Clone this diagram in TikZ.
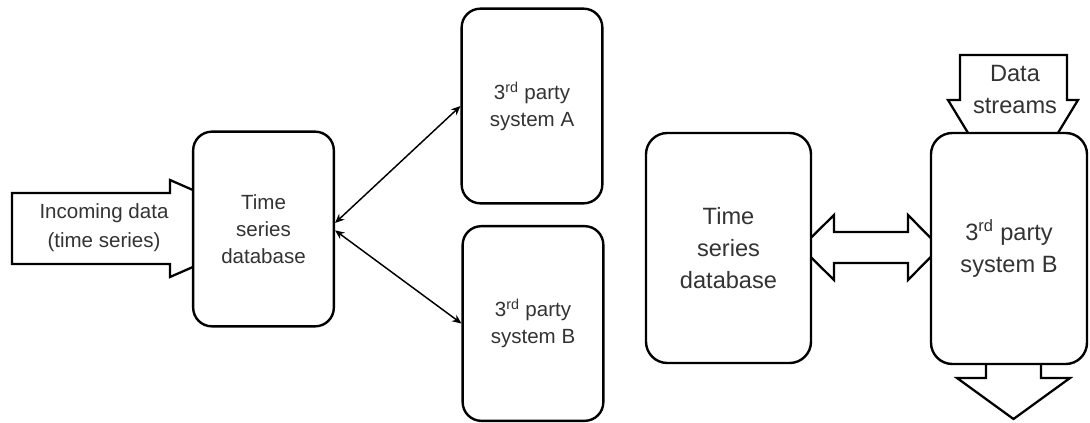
\documentclass[tikz,border=0pt]{standalone}
\usepackage{fontspec}
\setmainfont{Liberation Sans}
\usetikzlibrary{arrows.meta}

\tikzset{
  box/.style={draw, line width=1.8pt, rounded corners=14pt, fill=white, align=center, inner sep=0pt, text=black!80},
  smallbox/.style={box, minimum width=105.5pt, minimum height=146pt, font=\fontsize{15.4}{20.3}\selectfont},
  bigbox/.style={box, rounded corners=16pt, font=\fontsize{17.7}{24}\selectfont},
  blockarrow/.style={draw, line width=1.7pt, fill=white, line join=miter},
  arrowtext/.style={align=center, inner sep=0pt, text=black!80},
  link/.style={line width=1.1pt, {Stealth[length=7pt,width=6pt]}-{Stealth[length=7pt,width=6pt]}},
}

\begin{document}
\begin{tikzpicture}[x=0.75pt, y=-0.75pt]
		\useasboundingbox (0,0) rectangle (1090,422);
		
		%%%%% BLOCK ARROWS (tips hidden under the boxes) %%%%%
		\draw[blockarrow] (12,193) -- (170,193) -- (170,180) -- (281,228.5) -- (170,277) -- (170,264) -- (12,264) -- cycle;
		\draw[blockarrow] (801,247.5) -- (834,215) -- (834,232) -- (908,232) -- (908,215) -- (940,247.5) -- (908,280) -- (908,263) -- (834,263) -- (834,280) -- cycle;
		\draw[blockarrow] (960,55) -- (1067,55) -- (1067,100) -- (1078,100) -- (1013,207) -- (948,100) -- (960,100) -- cycle;
		\draw[blockarrow] (986,350) -- (986,378) -- (957,378) -- (1013.5,419) -- (1070,378) -- (1041,378) -- (1041,350) -- cycle;
		
		\node[arrowtext, font=\fontsize{15.4}{21.5}\selectfont] (incoming) at (104,228) {Incoming data\\(time series)};
		\node[arrowtext, font=\fontsize{17.7}{24}\selectfont] (streams) at (1015,89) {Data\\streams};
		
		%%%%% LEFT %%%%%
		\node[smallbox] (tsdbL) at (263.5,229) {Time\\series\\database};
		\node[smallbox] (sysA) at (532,106) {3\textsuperscript{rd} party\\system A};
		\node[smallbox] (sysB) at (533,323.5) {3\textsuperscript{rd} party\\system B};
		
		\draw[link] ([yshift=4.5pt]tsdbL.east) -- (sysA.west);
		\draw[link] ([yshift=-1pt]tsdbL.east) -- (sysB.west);
		
		%%%%% RIGHT %%%%%
		\node[bigbox, minimum width=123.75pt, minimum height=172.5pt] (tsdbR) at (728.5,248) {Time\\series\\database};
		\node[bigbox, minimum width=117pt, minimum height=173.25pt] (sysBR) at (1009,248.5) {3\textsuperscript{rd} party\\system B};
		
	\end{tikzpicture}
\end{document}
